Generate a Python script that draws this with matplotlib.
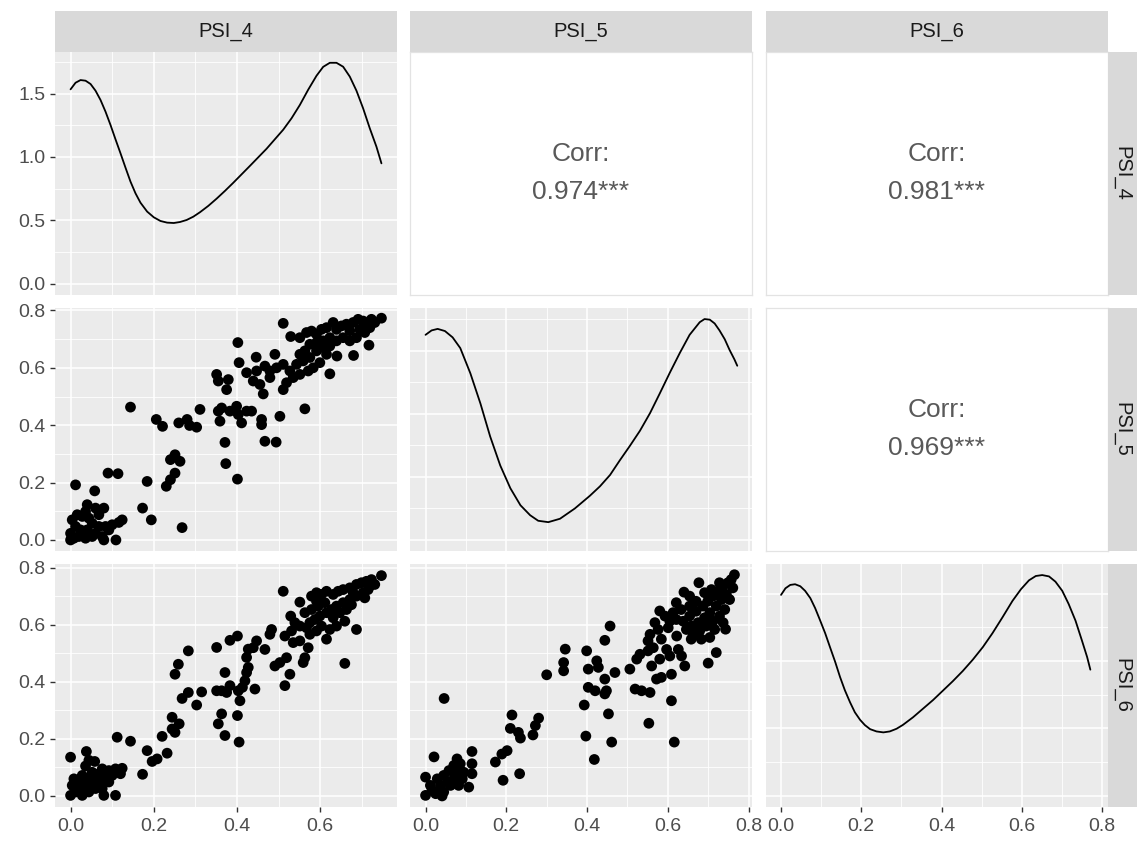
import matplotlib
matplotlib.use("Agg")
import matplotlib.pyplot as plt
from matplotlib.ticker import MultipleLocator
import numpy as np

plt.rcParams['font.family'] = ['Liberation Sans', 'DejaVu Sans']

variables = ["PSI_4", "PSI_5", "PSI_6"]
corr_labels = {(0, 1): "0.974***", (0, 2): "0.981***", (1, 2): "0.969***"}

# ---- scatter data: PSI_4 (x) vs PSI_5 (y) ----
psi4_psi5 = [
    (0.511,0.755),(0.529,0.709),(0.747,0.773),(0.717,0.679),(0.680,0.643),(0.640,0.641),(0.623,0.579),
    (0.446,0.637),(0.491,0.647),(0.563,0.457),(0.503,0.431),(0.459,0.420),(0.459,0.402),(0.511,0.524),
    (0.463,0.509),(0.435,0.449),
    (0.551,0.705),(0.567,0.723),(0.579,0.728),(0.591,0.717),(0.603,0.734),(0.615,0.740),(0.631,0.758),
    (0.639,0.734),(0.651,0.746),(0.663,0.752),(0.671,0.729),(0.679,0.758),(0.691,0.769),(0.703,0.763),
    (0.711,0.752),(0.723,0.769),(0.731,0.758),(0.695,0.734),(0.655,0.705),(0.639,0.694),(0.623,0.705),
    (0.607,0.694),(0.591,0.688),(0.575,0.682),(0.563,0.659),(0.551,0.647),(0.559,0.624),(0.575,0.636),
    (0.591,0.659),(0.607,0.670),(0.623,0.676),(0.599,0.618),(0.583,0.600),(0.571,0.589),(0.551,0.577),
    (0.535,0.566),(0.519,0.548),(0.527,0.589),(0.511,0.612),(0.495,0.600),(0.479,0.589),(0.467,0.606),
    (0.447,0.589),(0.439,0.554),(0.455,0.542),(0.479,0.566),(0.543,0.612),(0.615,0.647),(0.671,0.694),
    (0.687,0.705),(0.707,0.723),(0.719,0.740),
    (0.402,0.688),(0.405,0.618),(0.351,0.577),(0.355,0.554),(0.379,0.559),(0.375,0.524),(0.423,0.583),
    (0.311,0.455),(0.355,0.449),(0.363,0.460),(0.383,0.449),(0.359,0.414),(0.399,0.466),(0.403,0.437),
    (0.411,0.408),(0.423,0.449),(0.371,0.340),(0.373,0.266),(0.401,0.212),(0.467,0.344),(0.494,0.341),
    (0.206,0.420),(0.221,0.396),(0.260,0.408),(0.280,0.420),(0.286,0.399),(0.303,0.393),(0.144,0.463),
    (0.251,0.297),(0.240,0.280),(0.263,0.274),(0.251,0.233),(0.240,0.210),(0.230,0.187),(0.184,0.204),
    (0.173,0.111),(0.194,0.070),(0.268,0.043),(0.090,0.233),(0.114,0.231),(0.058,0.171),(0.012,0.192),
    (0.109,0.000),(0.080,0.000),
    (0.040,0.123),(0.036,0.099),(0.060,0.111),(0.080,0.111),(0.068,0.088),(0.004,0.070),(0.012,0.047),
    (0.000,0.023),(0.000,0.000),(0.020,0.012),(0.040,0.035),(0.052,0.058),(0.044,0.076),(0.068,0.047),
    (0.084,0.047),(0.100,0.053),(0.116,0.061),(0.124,0.070),(0.092,0.035),(0.060,0.023),(0.036,0.006),
    (0.008,0.006),(0.076,0.012),(0.024,0.035),(0.052,0.012),(0.028,0.082),(0.016,0.088),
]

# ---- scatter data: PSI_4 (x) vs PSI_6 (y) ----
psi4_psi6 = [
    (0.747,0.773),(0.511,0.718),(0.551,0.680),(0.529,0.631),(0.687,0.584),(0.615,0.550),(0.659,0.465),
    (0.483,0.584),(0.479,0.567),(0.447,0.544),(0.439,0.520),(0.467,0.514),(0.515,0.561),(0.535,0.538),
    (0.551,0.544),(0.571,0.520),(0.563,0.485),(0.559,0.468),(0.519,0.485),(0.503,0.468),(0.491,0.456),
    (0.527,0.427),(0.515,0.387),
    (0.579,0.701),(0.591,0.713),(0.603,0.707),(0.615,0.718),(0.631,0.707),(0.643,0.718),(0.655,0.724),
    (0.671,0.730),(0.687,0.742),(0.699,0.748),(0.711,0.753),(0.723,0.759),(0.731,0.742),(0.715,0.724),
    (0.703,0.713),(0.687,0.701),(0.671,0.689),(0.655,0.678),(0.639,0.666),(0.627,0.654),(0.615,0.643),
    (0.599,0.631),(0.587,0.619),(0.575,0.608),(0.567,0.590),(0.551,0.596),(0.563,0.643),(0.579,0.654),
    (0.595,0.666),(0.611,0.678),(0.631,0.625),(0.647,0.643),(0.663,0.654),(0.675,0.671),(0.659,0.613),
    (0.639,0.596),(0.623,0.584),(0.603,0.596),(0.591,0.579),(0.575,0.567),(0.539,0.608),(0.531,0.579),
    (0.591,0.683),(0.707,0.695),(0.719,0.736),(0.679,0.713),
    (0.427,0.515),(0.423,0.486),(0.413,0.381),(0.419,0.404),(0.423,0.433),(0.427,0.451),(0.443,0.375),
    (0.407,0.334),(0.403,0.369),(0.401,0.282),(0.405,0.189),(0.371,0.212),(0.363,0.288),(0.355,0.253),
    (0.351,0.369),(0.363,0.369),(0.375,0.363),(0.383,0.387),(0.371,0.433),(0.351,0.521),(0.383,0.546),
    (0.401,0.561),(0.283,0.509),(0.259,0.462),(0.251,0.427),
    (0.000,0.136),(0.038,0.156),(0.112,0.206),(0.144,0.192),(0.184,0.159),(0.196,0.121),(0.208,0.130),
    (0.173,0.076),(0.220,0.209),(0.232,0.150),(0.244,0.276),(0.261,0.253),(0.251,0.223),(0.244,0.235),
    (0.268,0.342),(0.283,0.363),(0.303,0.319),(0.315,0.365),(0.108,0.002),(0.080,0.002),
    (0.036,0.105),(0.058,0.121),(0.044,0.125),(0.076,0.095),(0.092,0.089),(0.108,0.095),(0.124,0.097),
    (0.120,0.078),(0.100,0.072),(0.084,0.066),(0.068,0.078),(0.052,0.083),(0.028,0.072),(0.008,0.060),
    (0.004,0.037),(0.000,0.002),(0.012,0.014),(0.024,0.031),(0.040,0.043),(0.056,0.049),(0.072,0.055),
    (0.092,0.049),(0.060,0.026),(0.044,0.014),(0.028,0.002),(0.076,0.026),(0.016,0.043),(0.032,0.055),
    (0.048,0.066),(0.064,0.037),
]

# ---- scatter data: PSI_5 (x) vs PSI_6 (y) ----
psi5_psi6 = [
    (0.765,0.776),(0.677,0.748),(0.640,0.715),(0.580,0.649),(0.613,0.643),(0.633,0.654),(0.568,0.608),
    (0.556,0.567),(0.551,0.544),(0.576,0.584),(0.601,0.590),(0.564,0.520),(0.551,0.509),(0.584,0.550),
    (0.597,0.514),(0.622,0.561),(0.626,0.514),(0.634,0.491),(0.605,0.491),(0.580,0.480),(0.560,0.456),
    (0.531,0.497),(0.523,0.480),(0.609,0.427),(0.584,0.416),(0.572,0.410),(0.642,0.456),(0.658,0.550),
    (0.683,0.550),(0.704,0.556),(0.720,0.503),(0.700,0.466),(0.743,0.585),
    (0.654,0.631),(0.670,0.648),(0.687,0.666),(0.699,0.683),(0.712,0.701),(0.724,0.718),(0.737,0.736),
    (0.749,0.748),(0.757,0.759),(0.761,0.730),(0.745,0.707),(0.733,0.689),(0.720,0.666),(0.704,0.643),
    (0.691,0.625),(0.675,0.608),(0.658,0.596),(0.646,0.584),(0.638,0.613),(0.654,0.666),(0.670,0.683),
    (0.691,0.713),(0.708,0.724),(0.728,0.748),(0.741,0.654),(0.728,0.631),(0.712,0.613),(0.695,0.596),
    (0.679,0.579),(0.663,0.567),(0.753,0.689),(0.737,0.608),(0.716,0.584),(0.621,0.619),(0.605,0.613),
    (0.593,0.631),(0.654,0.701),(0.621,0.678),
    (0.519,0.375),(0.535,0.369),(0.556,0.363),(0.506,0.445),(0.609,0.334),(0.616,0.189),(0.553,0.255),
    (0.393,0.319),(0.453,0.288),(0.397,0.210),(0.461,0.189),(0.418,0.128),(0.399,0.509),(0.403,0.445),
    (0.403,0.381),(0.346,0.515),(0.342,0.468),(0.342,0.439),(0.300,0.425),(0.457,0.596),(0.444,0.546),
    (0.424,0.474),(0.428,0.451),(0.444,0.410),(0.469,0.433),(0.420,0.369),(0.444,0.358),(0.448,0.369),
    (0.046,0.342),(0.214,0.284),(0.210,0.237),(0.230,0.223),(0.235,0.203),(0.280,0.273),(0.272,0.247),
    (0.266,0.214),(0.202,0.159),(0.189,0.147),(0.173,0.119),(0.192,0.055),(0.233,0.078),(0.115,0.156),
    (0.021,0.137),(0.115,0.113),(0.115,0.078),(0.107,0.031),
    (0.000,0.066),(0.012,0.037),(0.000,0.002),(0.025,0.008),(0.045,0.014),(0.037,0.037),(0.029,0.060),
    (0.045,0.072),(0.058,0.089),(0.070,0.107),(0.086,0.113),(0.078,0.083),(0.070,0.060),(0.091,0.060),
    (0.062,0.037),(0.082,0.037),(0.095,0.083),(0.054,0.049),(0.016,0.020),(0.041,0.000),(0.078,0.130),
]

# ---- density curves ----
dens4_x = [0.000, 0.012, 0.024, 0.036, 0.048, 0.060, 0.072, 0.084, 0.096, 0.108, 0.120, 0.132,
           0.144, 0.156, 0.168, 0.184, 0.200, 0.216, 0.232, 0.248, 0.263, 0.279, 0.295, 0.311,
           0.331, 0.351, 0.371, 0.391, 0.431, 0.471, 0.511, 0.531, 0.551, 0.571, 0.591, 0.607,
           0.623, 0.639, 0.655, 0.671, 0.687, 0.703, 0.719, 0.735, 0.747]
dens4_y = [1.533, 1.585, 1.606, 1.601, 1.575, 1.522, 1.449, 1.357, 1.252, 1.139, 1.029, 0.916,
           0.806, 0.714, 0.640, 0.570, 0.525, 0.496, 0.483, 0.480, 0.488, 0.504, 0.530, 0.565,
           0.615, 0.672, 0.733, 0.797, 0.930, 1.065, 1.215, 1.305, 1.410, 1.530, 1.640, 1.710,
           1.742, 1.742, 1.711, 1.633, 1.522, 1.383, 1.226, 1.081, 0.950]

dens5_x = [0.000, 0.015, 0.030, 0.048, 0.067, 0.086, 0.111, 0.136, 0.160, 0.185, 0.210, 0.235,
           0.259, 0.279, 0.304, 0.333, 0.370, 0.407, 0.432, 0.457, 0.481, 0.506, 0.531, 0.556,
           0.580, 0.605, 0.630, 0.654, 0.679, 0.691, 0.704, 0.716, 0.728, 0.741, 0.753, 0.765, 0.772]
dens5_y = [1.625, 1.660, 1.672, 1.655, 1.605, 1.520, 1.320, 1.080, 0.820, 0.590, 0.410, 0.275,
           0.196, 0.152, 0.141, 0.168, 0.250, 0.350, 0.425, 0.515, 0.630, 0.745, 0.865, 1.005,
           1.160, 1.325, 1.483, 1.625, 1.725, 1.750, 1.745, 1.715, 1.660, 1.590, 1.505, 1.430, 1.380]

dens6_x = [0.000, 0.011, 0.023, 0.035, 0.048, 0.060, 0.073, 0.085, 0.097, 0.110, 0.122, 0.135,
           0.147, 0.159, 0.172, 0.184, 0.197, 0.209, 0.222, 0.238, 0.255, 0.271, 0.288, 0.304,
           0.329, 0.354, 0.379, 0.403, 0.428, 0.453, 0.478, 0.503, 0.527, 0.552, 0.577, 0.598,
           0.618, 0.635, 0.651, 0.668, 0.684, 0.701, 0.717, 0.734, 0.750, 0.763, 0.771]
dens6_y = [1.490, 1.539, 1.564, 1.569, 1.554, 1.520, 1.466, 1.392, 1.304, 1.206, 1.103, 0.993,
           0.882, 0.784, 0.694, 0.620, 0.564, 0.525, 0.495, 0.478, 0.471, 0.478, 0.498, 0.527,
           0.583, 0.647, 0.711, 0.779, 0.850, 0.926, 1.010, 1.103, 1.206, 1.324, 1.446, 1.532,
           1.598, 1.630, 1.637, 1.627, 1.588, 1.520, 1.422, 1.299, 1.152, 1.029, 0.936]

# ---- layout / style ----
W, H = 1137, 842
fig = plt.figure(figsize=(W / 100, H / 100), dpi=100)
col_px = [(55, 397), (410, 752), (765.5, 1107.5)]
row_px = [(52, 295), (308, 551), (564, 807)]
var_lim = [(-0.0374, 0.7844), (-0.0385, 0.8085), (-0.03875, 0.81375)]
dens_lim = [(-0.087, 1.827), (-0.0875, 1.8375), (-0.082, 1.719)]

PANEL_BG = "#EBEBEB"
STRIP_BG = "#D9D9D9"
TICK_COL = "#4D4D4D"
FS_TICK = 14
FS_STRIP = 14.5

def axes_px(x0, x1, y0, y1):
    return fig.add_axes([x0 / W, 1 - y1 / H, (x1 - x0) / W, (y1 - y0) / H])

def style_grid(ax, xmaj, ymaj):
    ax.set_facecolor(PANEL_BG)
    for s in ax.spines.values():
        s.set_visible(False)
    ax.xaxis.set_major_locator(MultipleLocator(xmaj))
    ax.xaxis.set_minor_locator(MultipleLocator(xmaj / 2))
    ax.yaxis.set_major_locator(MultipleLocator(ymaj))
    ax.yaxis.set_minor_locator(MultipleLocator(ymaj / 2))
    ax.grid(which="major", color="white", lw=1.15)
    ax.grid(which="minor", color="white", lw=0.6)
    ax.set_axisbelow(True)
    ax.tick_params(which="both", length=0, labelbottom=False, labelleft=False)

scatter_sets = {(1, 0): psi4_psi5, (2, 0): psi4_psi6, (2, 1): psi5_psi6}
dens_sets = [(dens4_x, dens4_y), (dens5_x, dens5_y), (dens6_x, dens6_y)]

for r in range(3):
    for c in range(3):
        x0, x1 = col_px[c]
        y0, y1 = row_px[r]
        ax = axes_px(x0, x1, y0, y1)
        ax.set_xlim(*var_lim[c])
        if r == c:
            ax.set_ylim(*dens_lim[r])
            style_grid(ax, 0.2, 0.5)
            dx, dy = dens_sets[r]
            ax.plot(dx, dy, color="black", lw=1.3, solid_joinstyle="round",
                    solid_capstyle="round")
        elif r > c:
            ax.set_ylim(*var_lim[r])
            style_grid(ax, 0.2, 0.2)
            pts = np.array(scatter_sets[(r, c)])
            ax.scatter(pts[:, 0], pts[:, 1], s=60, color="black", edgecolors="none", zorder=3)
        else:
            ax.set_facecolor("white")
            ax.set_xticks([]); ax.set_yticks([])
            ax.set_ylim(0, 1)
            for s in ax.spines.values():
                s.set_color("#E3E3E3"); s.set_linewidth(0.9)
            ax.text(0.5, 0.58, "Corr:", ha="center", va="center", fontsize=19,
                    color="#595959", transform=ax.transAxes)
            ax.text(0.5, 0.425, corr_labels[(r, c)], ha="center", va="center", fontsize=19,
                    color="#595959", transform=ax.transAxes)
        if c == 0:
            ax.tick_params(axis="y", which="major", length=3.6, width=1.0, color="#333333",
                           labelleft=True, labelsize=FS_TICK, labelcolor=TICK_COL, pad=3)
            if r == 0:
                ax.set_yticks([0.0, 0.5, 1.0, 1.5])
                ax.set_yticklabels(["0.0", "0.5", "1.0", "1.5"])
            else:
                ax.set_yticks([0.0, 0.2, 0.4, 0.6, 0.8])
                ax.set_yticklabels(["0.0", "0.2", "0.4", "0.6", "0.8"])
        if r == 2:
            ax.tick_params(axis="x", which="major", length=3.6, width=1.0, color="#333333",
                           labelbottom=True, labelsize=FS_TICK, labelcolor=TICK_COL, pad=4)
            if c == 0:
                ax.set_xticks([0.0, 0.2, 0.4, 0.6])
                ax.set_xticklabels(["0.0", "0.2", "0.4", "0.6"])
            else:
                ax.set_xticks([0.0, 0.2, 0.4, 0.6, 0.8])
                ax.set_xticklabels(["0.0", "0.2", "0.4", "0.6", "0.8"])

# top strips
for c in range(3):
    x0, x1 = col_px[c]
    sax = axes_px(x0, x1, 11, 52)
    sax.set_facecolor(STRIP_BG)
    sax.set_xticks([]); sax.set_yticks([])
    for s in sax.spines.values():
        s.set_visible(False)
    sax.text(0.5, 0.5, variables[c], ha="center", va="center", fontsize=FS_STRIP,
             color="#1A1A1A", transform=sax.transAxes)

# right strips
for r in range(3):
    y0, y1 = row_px[r]
    sax = axes_px(1107.5, 1137, y0, y1)
    sax.set_facecolor(STRIP_BG)
    sax.set_xticks([]); sax.set_yticks([])
    for s in sax.spines.values():
        s.set_visible(False)
    sax.text(0.5, 0.5, variables[r], ha="center", va="center", fontsize=FS_STRIP,
             color="#1A1A1A", rotation=-90, transform=sax.transAxes)

fig.savefig("out.png", dpi=100, facecolor="white")
